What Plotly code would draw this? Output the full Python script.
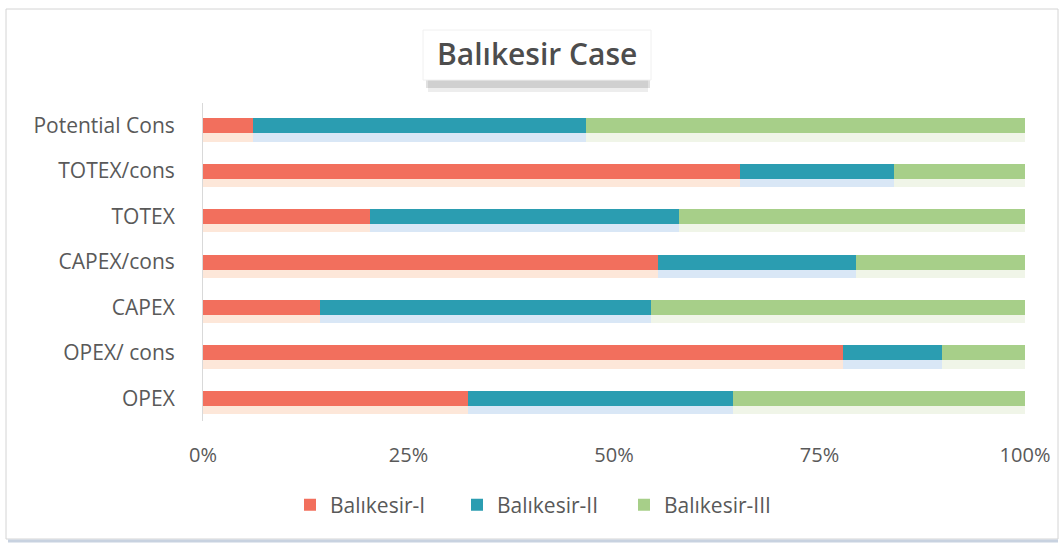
import plotly.graph_objects as go

# Shares (%) of each site per indicator
categories = ["OPEX", "OPEX/ cons", "CAPEX", "CAPEX/cons", "TOTEX", "TOTEX/cons", "Potential Cons"]
balikesir_1 = [32.2, 77.9, 14.2, 55.4, 20.3, 65.3, 6.1]
balikesir_2 = [32.3, 12.0, 40.3, 24.0, 37.6, 18.8, 40.5]
balikesir_3 = [35.5, 10.1, 45.5, 20.6, 42.1, 15.9, 53.4]

series = [
    ("Balıkesir-I", balikesir_1, "#F26F5D", "rgba(250,175,130,0.30)"),
    ("Balıkesir-II", balikesir_2, "#2B9DB1", "rgba(130,175,225,0.30)"),
    ("Balıkesir-III", balikesir_3, "#A7CF89", "rgba(195,215,165,0.25)"),
]

W, H = 1064, 547
L, R, T, B = 203, 39, 103, 126
PW, PH = W - L - R, H - T - B


def px(x):
    return (x - L) / PW


def py(y):
    return (H - B - y) / PH


fig = go.Figure()

# soft drop shadow under each bar segment (base axis, drawn underneath)
for name, vals, col, shadow in series:
    fig.add_trace(go.Bar(
        y=categories, x=vals, orientation="h", name=name,
        marker=dict(color=shadow, line=dict(width=0)),
        width=0.20, offset=-0.35, yaxis="y", showlegend=False, hoverinfo="skip",
    ))

# the bars themselves, on the overlaid axis
for name, vals, col, shadow in series:
    fig.add_trace(go.Bar(
        y=categories, x=vals, orientation="h", name=name,
        marker=dict(color=col, line=dict(width=0)),
        width=0.33, yaxis="y2",
    ))

font_family = "Open Sans, Noto Sans, sans-serif"
txt = "#595959"

fig.update_layout(
    width=W, height=H,
    barmode="stack",
    margin=dict(l=L, r=R, t=T, b=B),
    paper_bgcolor="white",
    plot_bgcolor="white",
    font=dict(family=font_family, color=txt, size=20),
    xaxis=dict(
        range=[0, 100], tickvals=[0, 25, 50, 75, 100],
        ticktext=["0%", "25%", "50%", "75%", "100%"],
        showgrid=False, zeroline=False, showline=False,
        ticks="", ticklabelstandoff=20,
        tickfont=dict(size=20, color=txt),
        fixedrange=True,
    ),
    yaxis=dict(
        categoryorder="array", categoryarray=categories,
        range=[-0.5, 6.5],
        showgrid=False, zeroline=False,
        showline=True, linecolor="#d9d9d9", linewidth=1,
        ticks="", ticklabelstandoff=23,
        tickfont=dict(size=21, color=txt),
    ),
    yaxis2=dict(
        overlaying="y", range=[-0.5, 6.5],
        categoryorder="array", categoryarray=categories,
        visible=False,
    ),
    legend=dict(
        orientation="h", x=px(290), y=py(505), xanchor="left", yanchor="middle",
        font=dict(size=21, color=txt), traceorder="normal",
        entrywidth=122, entrywidthmode="pixels",
    ),
    showlegend=True,
)

# outer frame
fig.add_shape(type="rect", xref="paper", yref="paper",
              x0=px(6), x1=px(1058), y0=py(539), y1=py(9),
              line=dict(color="#d4d4d4", width=1), fillcolor="rgba(0,0,0,0)", layer="below")
fig.add_shape(type="line", xref="paper", yref="paper",
              x0=px(8), x1=px(1058), y0=py(541), y1=py(541),
              line=dict(color="#c8d2e0", width=3))

# title box and its shadow
fig.add_shape(type="rect", xref="paper", yref="paper",
              x0=px(428), x1=px(648), y0=py(92), y1=py(80),
              line=dict(width=0), fillcolor="rgba(0,0,0,0.07)", layer="below")
fig.add_shape(type="rect", xref="paper", yref="paper",
              x0=px(426), x1=px(650), y0=py(88), y1=py(79),
              line=dict(width=0), fillcolor="rgba(0,0,0,0.12)", layer="below")
fig.add_shape(type="rect", xref="paper", yref="paper",
              x0=px(423), x1=px(651), y0=py(80), y1=py(30),
              line=dict(color="#f0f0f0", width=1), fillcolor="white", layer="below")
fig.add_annotation(
    text="Balıkesir Case", xref="paper", yref="paper",
    x=px(537), y=py(53), xanchor="center", yanchor="middle", showarrow=False,
    font=dict(family=font_family, size=30, color="#4d4d4d", weight=600),
)

fig.write_html("out.html")
